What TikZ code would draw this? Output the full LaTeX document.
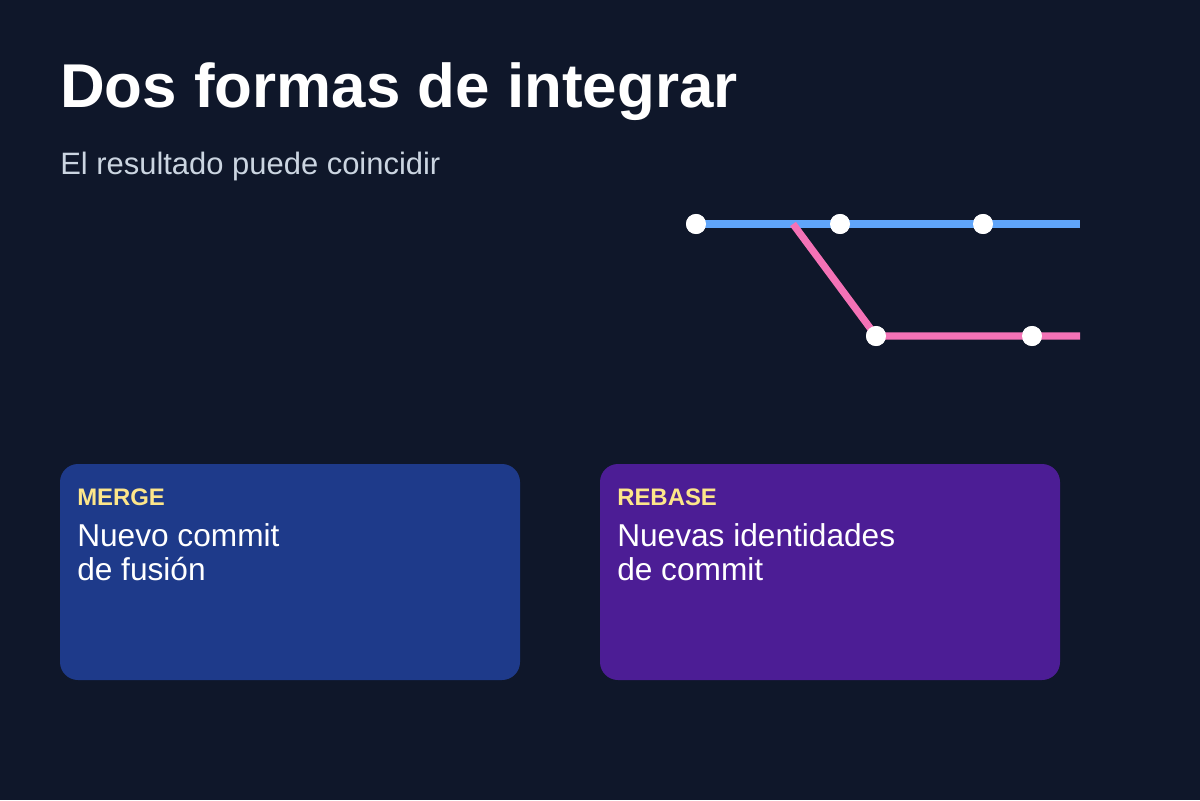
\documentclass[tikz,border=0pt]{standalone}
\usepackage{fontspec}
\setmainfont{Liberation Sans}
\definecolor{bgcol}{HTML}{0F172A}
\definecolor{maincol}{HTML}{60A5FA}
\definecolor{featcol}{HTML}{F472B6}
\definecolor{mergecol}{HTML}{1E3A8A}
\definecolor{rebasecol}{HTML}{4C1D95}
\definecolor{tagcol}{HTML}{FDE68A}
\definecolor{subcol}{HTML}{CBD5E1}
\tikzset{
  commit/.style={circle, fill=white, inner sep=0pt, minimum size=0.5cm},
  card/.style={rounded corners=0.45cm},
  tag/.style={anchor=base west, inner sep=0pt, text=tagcol, font=\fontsize{17}{20}\selectfont\bfseries},
  body/.style={anchor=north west, inner sep=0pt, text=white, align=left, font=\fontsize{22.5}{24.5}\selectfont}
}
\begin{document}
\begin{tikzpicture}[x=0.025cm, y=-0.025cm]
	\fill[bgcol] (0,0) rectangle (1200,800);
	\useasboundingbox (0,0) rectangle (1200,800);
	
	\node[anchor=base west, inner sep=0pt, text=white, font=\fontsize{44}{50}\selectfont\bfseries] (title) at (60,108) {Dos formas de integrar};
	\node[anchor=base west, inner sep=0pt, text=subcol, font=\fontsize{22}{26}\selectfont] (subtitle) at (60,175) {El resultado puede coincidir};
	
	% commit graph
	\coordinate (mainend) at (1080,224);
	\coordinate (fork) at (793,224);
	\coordinate (featend) at (1080,336);
	\node[commit] (m1) at (696,224) {};
	\node[commit] (m2) at (840,224) {};
	\node[commit] (m3) at (983,224) {};
	\node[commit] (f1) at (876,336) {};
	\node[commit] (f2) at (1032,336) {};
	\draw[maincol, line width=0.18cm] (m1.center) -- (mainend);
	\draw[featcol, line width=0.18cm] (fork) -- (f1.center) -- (featend);
	\foreach \c in {m1,m2,m3,f1,f2}
		\node[commit] at (\c) {};
	
	% cards
	\fill[mergecol, card] (60,464) rectangle (520,680);
	\fill[rebasecol, card] (600,464) rectangle (1060,680);
	\node[tag] (mergetag) at (77,505) {MERGE};
	\node[body] (mergetext) at (77,523) {Nuevo commit\\de fusión};
	\node[tag] (rebasetag) at (617,505) {REBASE};
	\node[body] (rebasetext) at (617,523) {Nuevas identidades\\de commit};
\end{tikzpicture}
\end{document}
